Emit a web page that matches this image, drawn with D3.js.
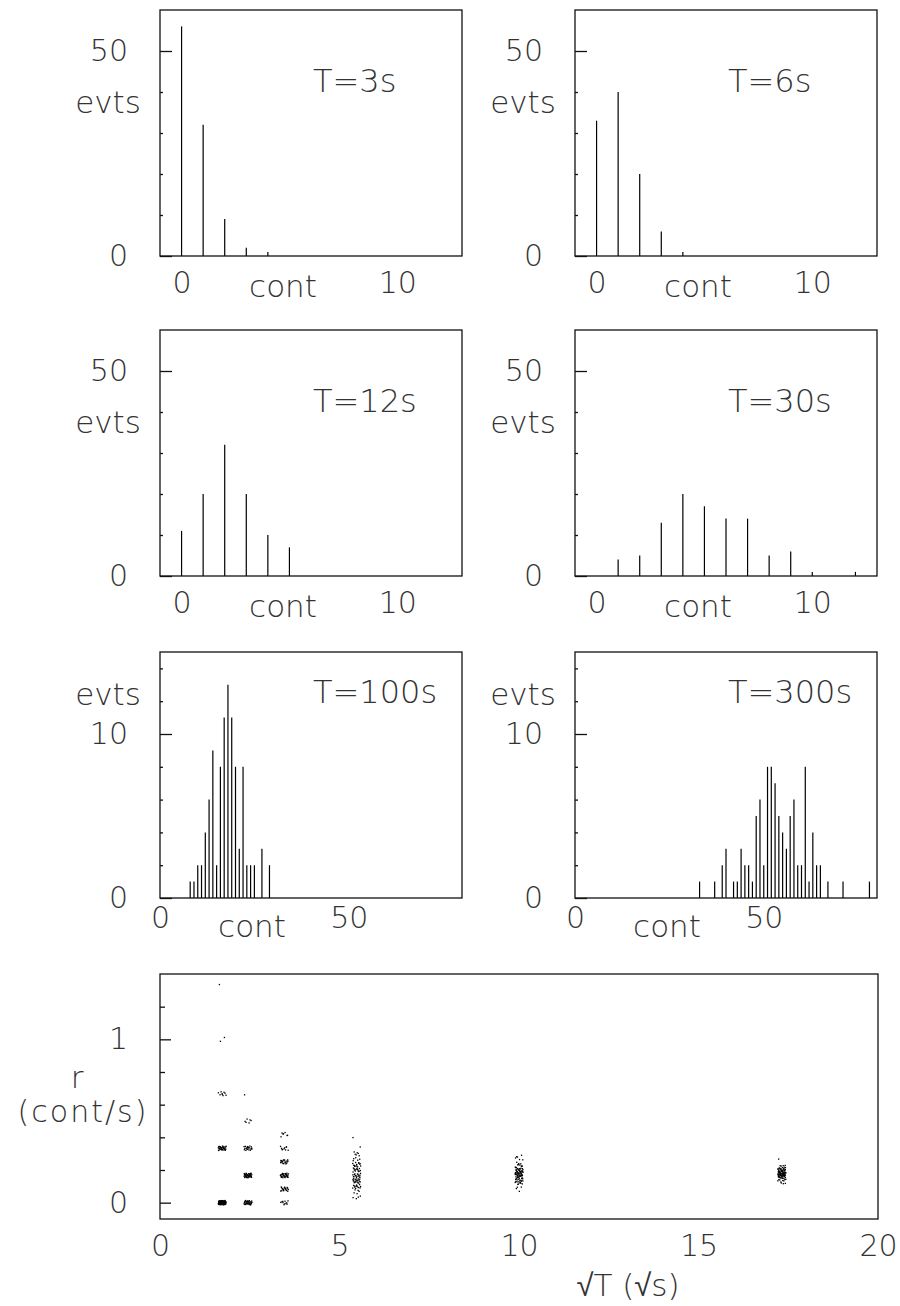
<!DOCTYPE html>
<html>
<head>
<meta charset="utf-8">
<script src="https://cdn.jsdelivr.net/npm/d3@7"></script>
<style>
  html, body { margin: 0; padding: 0; background: #fff; }
  text { font-family: "DejaVu Sans", sans-serif; font-weight: 200; fill: #333; }
</style>
</head>
<body>
<svg id="chart" width="900" height="1306"></svg>
<script>
// Exposure times (seconds) and their panel titles
const times = [3, 6, 12, 30, 100, 300];
const timeLabels = ["T=3s", "T=6s", "T=12s", "T=30s", "T=100s", "T=300s"];

// Counts per exposure: bin = number of counts, value = number of events (100 events each)
const bins3s = [0, 1, 2, 3, 4];
const counts3s = [56, 32, 9, 2, 1];

const bins6s = [0, 1, 2, 3, 4];
const counts6s = [33, 40, 20, 6, 1];

const bins12s = [0, 1, 2, 3, 4, 5];
const counts12s = [11, 20, 32, 20, 10, 7];

const bins30s = [1, 2, 3, 4, 5, 6, 7, 8, 9, 10, 12];
const counts30s = [4, 5, 13, 20, 17, 14, 14, 5, 6, 1, 1];

const bins100s = [8, 9, 10, 11, 12, 13, 14, 15, 16, 17, 18, 19, 20, 21, 22, 23, 24, 25, 27, 29];
const counts100s = [1, 1, 2, 2, 4, 6, 9, 2, 8, 11, 13, 11, 8, 3, 8, 2, 2, 2, 3, 2];

const bins300s = [33, 37, 39, 40, 42, 43, 44, 45, 46, 47, 48, 49, 50, 51, 52, 53, 54, 55, 56, 57,
                  58, 59, 60, 61, 62, 63, 64, 65, 67, 71, 78];
const counts300s = [1, 1, 2, 3, 1, 1, 3, 2, 2, 1, 5, 6, 2, 8, 8, 7, 5, 4, 3, 5,
                    6, 2, 2, 8, 1, 4, 2, 2, 1, 1, 1];

// Axis tick values
const shortXTicks = [0, 10];
const longXTicks = [0, 50];
const shortYMajor = [0, 50];
const shortYMinor = [10, 20, 30, 40];
const longYMajor = [0, 10];
const longYMinor = [2, 4, 6, 8, 12, 14];
const rateXTicks = [0, 5, 10, 15, 20];
const rateYMajor = [0, 1];
const rateYMinor = [0.2, 0.4, 0.6, 0.8, 1.2];

const allBins = [bins3s, bins6s, bins12s, bins30s, bins100s, bins300s];
const allCounts = [counts3s, counts6s, counts12s, counts30s, counts100s, counts300s];

const svg = d3.select("#chart");
svg.append("rect").attr("width", 900).attr("height", 1306).attr("fill", "#fff");

const PW = 302, PH = 246;
const panels = [
  { x: 160, y: 10,  xd: [-1, 13], yd: [0, 60], xt: shortXTicks, ymaj: shortYMajor, ymin: shortYMinor },
  { x: 575, y: 10,  xd: [-1, 13], yd: [0, 60], xt: shortXTicks, ymaj: shortYMajor, ymin: shortYMinor },
  { x: 160, y: 330, xd: [-1, 13], yd: [0, 60], xt: shortXTicks, ymaj: shortYMajor, ymin: shortYMinor },
  { x: 575, y: 330, xd: [-1, 13], yd: [0, 60], xt: shortXTicks, ymaj: shortYMajor, ymin: shortYMinor },
  { x: 160, y: 652, xd: [0, 80],  yd: [0, 15], xt: longXTicks,  ymaj: longYMajor,  ymin: longYMinor },
  { x: 575, y: 652, xd: [0, 80],  yd: [0, 15], xt: longXTicks,  ymaj: longYMajor,  ymin: longYMinor }
];

function styleAxis(a) {
  a.select(".domain").remove();
  a.selectAll("line").attr("stroke", "#111").attr("stroke-width", 1.3);
  a.selectAll("text").attr("font-size", 30).attr("font-family", null).attr("fill", "#333");
}

panels.forEach((p, i) => {
  const g = svg.append("g").attr("transform", `translate(${p.x},${p.y})`);
  const x = d3.scaleLinear().domain(p.xd).range([0, PW]);
  const y = d3.scaleLinear().domain(p.yd).range([PH, 0]);
  const wide = i >= 4;

  // histogram spikes
  const data = allBins[i].map((b, j) => ({ bin: b, n: allCounts[i][j] }));
  g.selectAll("line.bar").data(data).join("line")
    .attr("class", "bar")
    .attr("x1", d => x(d.bin)).attr("x2", d => x(d.bin))
    .attr("y1", y(0)).attr("y2", d => y(d.n))
    .attr("stroke", "#000").attr("stroke-width", 1.2);

  // frame
  g.append("rect").attr("width", PW).attr("height", PH)
    .attr("fill", "none").attr("stroke", "#111").attr("stroke-width", 1.3);

  // y axis: long labelled ticks and short unlabelled ticks, drawn inside the frame
  styleAxis(g.append("g").call(
    d3.axisLeft(y).tickValues(p.ymaj).tickSize(-12).tickPadding(32).tickFormat(d3.format("d"))));
  styleAxis(g.append("g").call(
    d3.axisLeft(y).tickValues(p.ymin).tickSize(-3).tickFormat("")));

  // x axis labels
  const gx = g.append("g").attr("transform", `translate(0,${PH})`).call(
    d3.axisBottom(x).tickValues(p.xt).tickSize(0).tickPadding(wide ? 9 : 16).tickFormat(d3.format("d")));
  styleAxis(gx);

  // axis titles
  g.append("text").attr("x", wide ? 92 : 123).attr("y", PH + (wide ? 39 : 41))
    .attr("text-anchor", "middle").attr("font-size", 31).text("cont");
  g.append("text").attr("x", -52).attr("y", wide ? 53 : 103)
    .attr("text-anchor", "middle").attr("font-size", 31).text("evts");

  // exposure label
  g.append("text").attr("x", 153).attr("y", wide ? 51 : 82)
    .attr("font-size", 32).text(timeLabels[i]);
});

// Rate versus sqrt(T) for every event
const R = { x: 160, y: 974, w: 718, h: 245 };
const rg = svg.append("g").attr("transform", `translate(${R.x},${R.y})`);
const rx = d3.scaleLinear().domain([0, 20]).range([0, R.w]);
const ry = d3.scaleLinear().domain([-0.1, 1.4]).range([R.h, 0]);

const events = [];
times.forEach((T, i) => {
  allBins[i].forEach((b, j) => {
    for (let e = 0; e < allCounts[i][j]; e++) events.push({ s: Math.sqrt(T), r: b / T });
  });
});

// Halton sequence: a small, even spread so coincident events stay visible
function halton(n, base) {
  let f = 1, r = 0;
  while (n > 0) { f /= base; r += f * (n % base); n = Math.floor(n / base); }
  return r;
}
events.forEach((d, k) => {
  d.dx = (halton(k + 1, 2) - 0.5) * 8;
  d.dy = (halton(k + 1, 3) - 0.5) * 4.5;
});

rg.selectAll("rect.pt").data(events).join("rect")
  .attr("class", "pt")
  .attr("x", d => rx(d.s) + d.dx - 0.6)
  .attr("y", d => ry(d.r) + d.dy - 0.6)
  .attr("width", 1.3).attr("height", 1.3)
  .attr("fill", "#000");

rg.append("rect").attr("width", R.w).attr("height", R.h)
  .attr("fill", "none").attr("stroke", "#111").attr("stroke-width", 1.3);

styleAxis(rg.append("g").call(
  d3.axisLeft(ry).tickValues(rateYMajor).tickSize(-11).tickPadding(32).tickFormat(d3.format("d"))));
styleAxis(rg.append("g").call(
  d3.axisLeft(ry).tickValues(rateYMinor).tickSize(-5).tickFormat("")));

styleAxis(rg.append("g").attr("transform", `translate(0,${R.h})`).call(
  d3.axisBottom(rx).tickValues(rateXTicks).tickSize(0).tickPadding(16).tickFormat(d3.format("d"))));

svg.append("text").attr("x", 77).attr("y", 1088).attr("text-anchor", "middle")
  .attr("font-size", 31).text("r");
svg.append("text").attr("x", 83).attr("y", 1122).attr("text-anchor", "middle")
  .attr("font-size", 30).attr("letter-spacing", 2).text("(cont/s)");
svg.append("text").attr("x", 628).attr("y", 1296).attr("text-anchor", "middle")
  .attr("font-size", 31).text("\u221AT (\u221As)");
</script>
</body>
</html>
